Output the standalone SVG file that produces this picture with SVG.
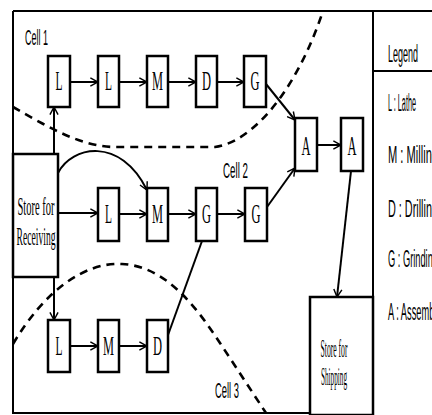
<svg xmlns="http://www.w3.org/2000/svg" width="432" height="415" viewBox="0 0 432 415">
<defs>
<marker id="ah" viewBox="0 0 10 10" refX="9.5" refY="5" markerWidth="9" markerHeight="10" markerUnits="userSpaceOnUse" orient="auto">
<path d="M1,0.5 L9.5,5 L1,9.5" fill="none" stroke="#000" stroke-width="1.6"/>
</marker>
</defs>
<style>
.box{fill:#fff;stroke:#000;stroke-width:2.5}
.frame{fill:none;stroke:#000;stroke-width:2}
.c{fill:none;stroke:#000;stroke-width:2}
.a{marker-end:url(#ah)}
.dash{fill:none;stroke:#000;stroke-width:2.6;stroke-dasharray:8 6}
.bl{font-family:"Liberation Serif",serif;font-size:27px;text-anchor:middle;fill:#000}
.st{font-family:"Liberation Serif",serif;font-size:25px;text-anchor:middle;fill:#000}
.cl{font-family:"Liberation Sans",sans-serif;font-size:22px;fill:#000}
.lg{font-family:"Liberation Sans",sans-serif;font-size:23px;fill:#000}
</style>
<rect width="432" height="415" fill="#fff"/>
<g id="frame">
<line class="frame" x1="13" y1="11" x2="432" y2="11" stroke-width="2.5"/>
<line class="frame" x1="13" y1="11" x2="13" y2="414"/>
<line class="frame" x1="13" y1="413" x2="373" y2="413"/>
<line class="frame" x1="373" y1="11" x2="373" y2="414"/>
</g>
<g id="cell-boundaries">
<path class="dash" d="M13,107 C45,125 80,147 115,147 L215,147 C252,142 296,92 323,11"/>
<path class="dash" d="M13,344 C45,290 85,262 122,264 C165,266 195,305 220,343 L266,413"/>
</g>
<g id="connectors">
<line class="c a" x1="70" y1="82" x2="98" y2="82"/>
<line class="c a" x1="119" y1="82" x2="147" y2="82"/>
<line class="c a" x1="168" y1="82" x2="196" y2="82"/>
<line class="c a" x1="217" y1="82" x2="244" y2="82"/>
<line class="c a" x1="54" y1="154" x2="54" y2="107"/>
<line class="c a" x1="266" y1="84" x2="295" y2="120"/>
<line class="c a" x1="58" y1="213" x2="98" y2="213"/>
<line class="c a" x1="119" y1="214" x2="147" y2="214"/>
<line class="c a" x1="168" y1="214" x2="196" y2="214"/>
<line class="c a" x1="217" y1="214" x2="245" y2="214"/>
<path class="c a" d="M58,173 C72,146 120,136 147,190"/>
<line class="c a" x1="267" y1="207" x2="295" y2="168"/>
<line class="c a" x1="317" y1="145" x2="341" y2="145"/>
<line class="c a" x1="351" y1="171" x2="337" y2="297"/>
<line class="c a" x1="54" y1="277" x2="54" y2="320"/>
<line class="c a" x1="70" y1="346" x2="98" y2="346"/>
<line class="c a" x1="119" y1="346" x2="147" y2="346"/>
<line class="c" x1="168" y1="335" x2="202" y2="241"/>
</g>
<g id="store-receiving">
<rect class="box" x="13" y="154" width="45" height="123"/>
<text class="st" x="36" y="215" textLength="37" lengthAdjust="spacingAndGlyphs">Store for</text>
<text class="st" x="36" y="245" textLength="39" lengthAdjust="spacingAndGlyphs">Receiving</text>
</g>
<g id="store-shipping">
<rect class="box" x="310" y="297" width="63" height="118"/>
<text class="st" x="334" y="357" textLength="27" lengthAdjust="spacingAndGlyphs">Store for</text>
<text class="st" x="334" y="385" textLength="26" lengthAdjust="spacingAndGlyphs">Shipping</text>
</g>
<g id="c1-L1"><rect class="box" x="48" y="56" width="22" height="51"/><text class="bl" x="59" y="90" textLength="7" lengthAdjust="spacingAndGlyphs">L</text></g>
<g id="c1-L2"><rect class="box" x="98" y="56" width="21" height="51"/><text class="bl" x="108.5" y="90" textLength="7" lengthAdjust="spacingAndGlyphs">L</text></g>
<g id="c1-M"><rect class="box" x="147" y="56" width="21" height="51"/><text class="bl" x="157.5" y="90" textLength="11" lengthAdjust="spacingAndGlyphs">M</text></g>
<g id="c1-D"><rect class="box" x="196" y="56" width="21" height="51"/><text class="bl" x="206.5" y="90" textLength="9" lengthAdjust="spacingAndGlyphs">D</text></g>
<g id="c1-G"><rect class="box" x="244" y="56" width="22" height="51"/><text class="bl" x="255" y="90" textLength="9" lengthAdjust="spacingAndGlyphs">G</text></g>
<g id="c2-L"><rect class="box" x="98" y="188" width="21" height="53"/><text class="bl" x="108.5" y="223" textLength="7" lengthAdjust="spacingAndGlyphs">L</text></g>
<g id="c2-M"><rect class="box" x="147" y="188" width="21" height="53"/><text class="bl" x="157.5" y="223" textLength="11" lengthAdjust="spacingAndGlyphs">M</text></g>
<g id="c2-G1"><rect class="box" x="196" y="188" width="21" height="53"/><text class="bl" x="206.5" y="223" textLength="9" lengthAdjust="spacingAndGlyphs">G</text></g>
<g id="c2-G2"><rect class="box" x="245" y="188" width="22" height="53"/><text class="bl" x="256" y="223" textLength="9" lengthAdjust="spacingAndGlyphs">G</text></g>
<g id="c3-L"><rect class="box" x="48" y="320" width="22" height="52"/><text class="bl" x="59" y="355" textLength="7" lengthAdjust="spacingAndGlyphs">L</text></g>
<g id="c3-M"><rect class="box" x="98" y="320" width="21" height="52"/><text class="bl" x="108.5" y="355" textLength="11" lengthAdjust="spacingAndGlyphs">M</text></g>
<g id="c3-D"><rect class="box" x="147" y="320" width="21" height="52"/><text class="bl" x="157.5" y="355" textLength="9" lengthAdjust="spacingAndGlyphs">D</text></g>
<g id="A1"><rect class="box" x="295" y="118" width="22" height="53"/><text class="bl" x="306" y="155" textLength="9" lengthAdjust="spacingAndGlyphs">A</text></g>
<g id="A2"><rect class="box" x="341" y="118" width="22" height="53"/><text class="bl" x="352" y="155" textLength="9" lengthAdjust="spacingAndGlyphs">A</text></g>
<g id="cell-labels">
<text class="cl" x="25" y="45" textLength="23" lengthAdjust="spacingAndGlyphs">Cell 1</text>
<text class="cl" x="223" y="178" textLength="25" lengthAdjust="spacingAndGlyphs">Cell 2</text>
<text class="cl" x="215" y="398" textLength="24" lengthAdjust="spacingAndGlyphs">Cell 3</text>
</g>
<g id="legend">
<line class="frame" x1="373" y1="71" x2="432" y2="71"/>
<text class="lg" x="388" y="62" textLength="30" lengthAdjust="spacingAndGlyphs">Legend</text>
<text class="lg" x="388" y="111" textLength="28" lengthAdjust="spacingAndGlyphs">L : Lathe</text>
<text class="lg" x="388" y="163" textLength="50" lengthAdjust="spacingAndGlyphs">M : Milling</text>
<text class="lg" x="388" y="217" textLength="50" lengthAdjust="spacingAndGlyphs">D : Drilling</text>
<text class="lg" x="388" y="267" textLength="50" lengthAdjust="spacingAndGlyphs">G : Grinding</text>
<text class="lg" x="388" y="320" textLength="53" lengthAdjust="spacingAndGlyphs">A : Assembly</text>
</g>
</svg>
